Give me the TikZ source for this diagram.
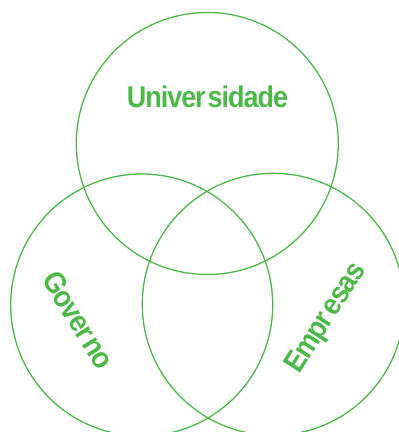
\documentclass[tikz,border=0pt]{standalone}
\usepackage{fontspec}
\newfontfamily\labfont{Liberation Sans}[LetterSpace=-3.5,FakeStretch=0.9]
\definecolor{vgreen}{RGB}{76,184,72}
\tikzset{
  venn/.style={circle, draw=vgreen, line width=1.3pt, minimum size=262pt, inner sep=0pt, outer sep=0pt},
  lab/.style={text=vgreen, font=\labfont\bfseries\fontsize{30}{30}\selectfont, inner sep=0pt}
}
\begin{document}
\begin{tikzpicture}[x=1pt,y=1pt]
\useasboundingbox (0,0) rectangle (399,432);
\node[venn] (uni) at (207.3,288.5) {};
\node[venn] (gov) at (141.7,127) {};
\node[venn] (emp) at (273.3,127.7) {};
\node[lab] (tuni) at (207.5,335.5) {Univer\kern2pt sidade};
\node[lab, rotate=-58] (tgov) at (78.5,112) {Gover\kern2pt no};
\node[lab, rotate=57.5] (temp) at (326.5,113.5) {Empr\kern2pt esas};
\end{tikzpicture}
\end{document}
